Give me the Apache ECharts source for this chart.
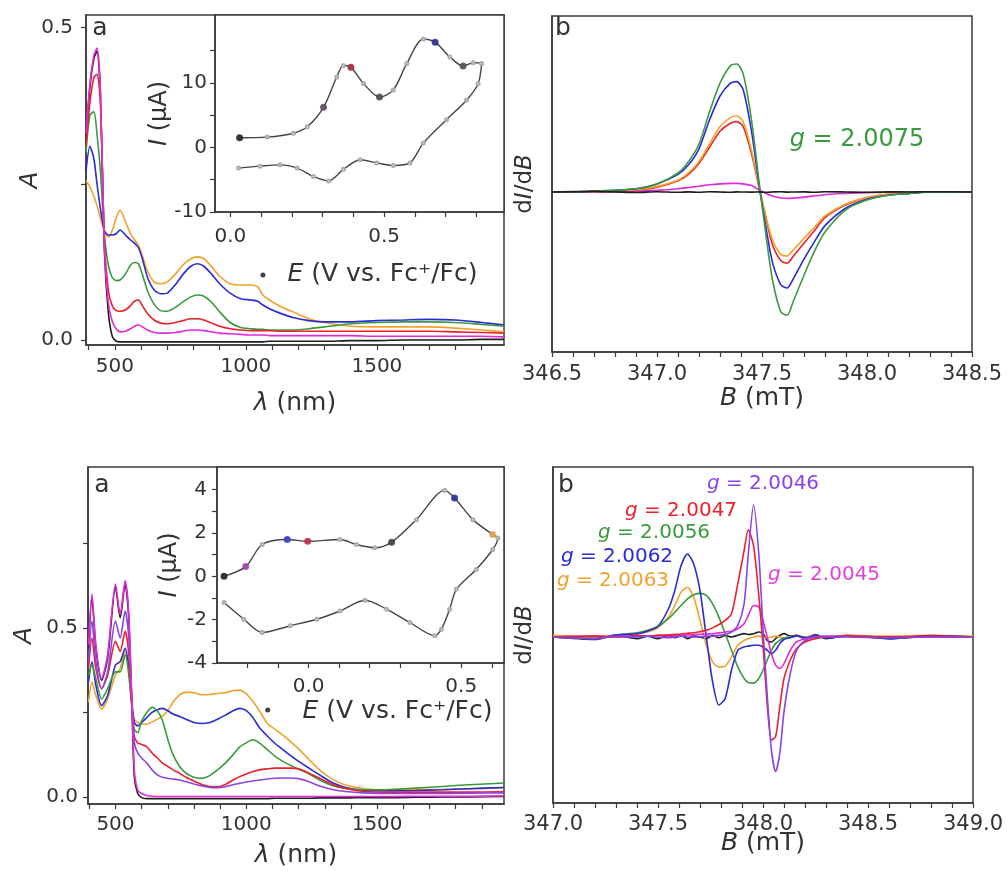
<!DOCTYPE html>
<html><head><meta charset="utf-8">
<script src="https://cdn.jsdelivr.net/npm/echarts@6/dist/echarts.min.js"></script>
<style>html,body{margin:0;padding:0;background:#fff}#c{width:1008px;height:871px}</style>
</head><body><div id="c"></div>
<script>
// ---------- Top-left: absorption spectra ----------
const wl1 = [390, 405, 420, 432, 445, 460, 475, 490, 505, 520, 540, 560, 575, 590, 605, 625, 650, 675, 700, 730, 760, 790, 815, 840, 870, 900, 940, 980, 1020, 1045, 1065, 1090, 1130, 1180, 1240, 1300, 1400, 1500, 1600, 1700, 1800, 1900, 1985];
const tlBlack   = [0.325, 0.405, 0.45, 0.462, 0.395, 0.145, 0.045, 0.006, -0.002, -0.003, -0.003, -0.003, -0.003, -0.003, -0.003, -0.003, -0.003, -0.003, -0.003, -0.003, -0.003, -0.003, -0.003, -0.003, -0.003, -0.003, -0.003, -0.003, -0.003, -0.003, -0.003, -0.002, -0.002, -0.002, -0.002, -0.002, -0.001, -0.001, 0, 0, 0, 0.001, 0.001];
const tlMagenta = [0.33, 0.41, 0.455, 0.467, 0.40, 0.15, 0.06, 0.03, 0.018, 0.013, 0.014, 0.018, 0.022, 0.024, 0.021, 0.016, 0.012, 0.011, 0.011, 0.012, 0.014, 0.016, 0.016, 0.015, 0.013, 0.011, 0.01, 0.009, 0.008, 0.008, 0.008, 0.007, 0.007, 0.007, 0.007, 0.007, 0.007, 0.006, 0.006, 0.006, 0.006, 0.006, 0.005];
const tlRed     = [0.31, 0.38, 0.42, 0.425, 0.38, 0.16, 0.08, 0.055, 0.047, 0.046, 0.048, 0.055, 0.062, 0.064, 0.055, 0.042, 0.032, 0.027, 0.026, 0.028, 0.031, 0.034, 0.034, 0.032, 0.027, 0.022, 0.018, 0.016, 0.015, 0.015, 0.015, 0.015, 0.014, 0.014, 0.014, 0.014, 0.014, 0.014, 0.014, 0.014, 0.013, 0.012, 0.011];
const tlGreen   = [0.30, 0.36, 0.365, 0.33, 0.27, 0.17, 0.12, 0.10, 0.095, 0.096, 0.105, 0.12, 0.124, 0.122, 0.105, 0.078, 0.057, 0.047, 0.046, 0.052, 0.061, 0.069, 0.072, 0.07, 0.06, 0.045, 0.028, 0.02, 0.018, 0.017, 0.017, 0.016, 0.016, 0.016, 0.018, 0.021, 0.026, 0.028, 0.029, 0.029, 0.028, 0.025, 0.022];
const tlBlue    = [0.27, 0.31, 0.29, 0.25, 0.21, 0.175, 0.168, 0.168, 0.17, 0.176, 0.168, 0.16, 0.155, 0.148, 0.13, 0.10, 0.08, 0.074, 0.075, 0.088, 0.105, 0.118, 0.122, 0.118, 0.105, 0.09, 0.075, 0.066, 0.064, 0.062, 0.056, 0.05, 0.043, 0.036, 0.031, 0.029, 0.029, 0.031, 0.032, 0.033, 0.032, 0.028, 0.024];
const tlOrange  = [0.255, 0.245, 0.23, 0.215, 0.195, 0.175, 0.165, 0.175, 0.195, 0.208, 0.19, 0.17, 0.16, 0.152, 0.135, 0.11, 0.093, 0.09, 0.093, 0.105, 0.12, 0.13, 0.133, 0.13, 0.117, 0.102, 0.09, 0.088, 0.088, 0.085, 0.072, 0.064, 0.054, 0.045, 0.034, 0.028, 0.022, 0.021, 0.021, 0.021, 0.019, 0.016, 0.013];
const tlStarX = [1065];
const tlStarY = [0.104];

// Top-left inset: cyclic voltammogram
const cv1E = [0.03, 0.12, 0.205, 0.25, 0.303, 0.346, 0.368, 0.392, 0.433, 0.485, 0.53, 0.574, 0.628, 0.666, 0.714, 0.757, 0.79, 0.817, 0.806, 0.768, 0.703, 0.628, 0.584, 0.53, 0.476, 0.422, 0.368, 0.319, 0.27, 0.217, 0.162, 0.097, 0.027];
const cv1I = [1.5, 1.6, 2.2, 3.2, 6.2, 10.9, 12.7, 12.4, 9.9, 7.8, 8.9, 13.0, 16.8, 16.3, 14.0, 12.6, 13.1, 13.0, 9.9, 7.3, 4.3, 0.7, -2.4, -2.8, -2.4, -1.9, -3.4, -5.2, -4.5, -3.2, -2.7, -2.9, -3.2];
const cv1DotE = [0.03, 0.303, 0.392, 0.485, 0.666, 0.757];
const cv1DotI = [1.5, 6.2, 12.4, 7.8, 16.3, 12.6];

// ---------- Top-right: EPR ----------
const b1 = [346.5, 346.7, 346.9, 347.0, 347.1, 347.15, 347.2, 347.25, 347.3, 347.35, 347.38, 347.41, 347.45, 347.49, 347.52, 347.55, 347.59, 347.62, 347.65, 347.7, 347.75, 347.8, 347.9, 348.0, 348.1, 348.2, 348.3, 348.5];
const e1Green   = [0, 0.005, 0.02, 0.05, 0.12, 0.19, 0.30, 0.50, 0.68, 0.79, 0.80, 0.74, 0.45, 0.02, -0.28, -0.55, -0.75, -0.77, -0.68, -0.52, -0.37, -0.25, -0.11, -0.05, -0.02, -0.01, 0, 0];
const e1Blue    = [0, 0.005, 0.02, 0.05, 0.11, 0.17, 0.27, 0.45, 0.60, 0.68, 0.69, 0.64, 0.38, 0.01, -0.23, -0.44, -0.58, -0.60, -0.54, -0.42, -0.31, -0.21, -0.10, -0.045, -0.02, -0.01, 0, 0];
const e1Orange  = [0, 0.003, 0.015, 0.035, 0.075, 0.12, 0.19, 0.30, 0.41, 0.465, 0.475, 0.44, 0.26, 0.01, -0.16, -0.30, -0.39, -0.40, -0.36, -0.29, -0.22, -0.15, -0.075, -0.035, -0.015, -0.005, 0, 0];
const e1Red     = [0, 0.003, 0.013, 0.03, 0.07, 0.11, 0.18, 0.28, 0.38, 0.43, 0.44, 0.41, 0.24, 0.005, -0.17, -0.33, -0.43, -0.445, -0.40, -0.32, -0.24, -0.16, -0.08, -0.035, -0.015, -0.005, 0, 0];
const e1Magenta = [0, 0, 0.005, 0.01, 0.02, 0.028, 0.036, 0.045, 0.051, 0.054, 0.054, 0.051, 0.04, 0.01, -0.01, -0.025, -0.038, -0.04, -0.038, -0.032, -0.024, -0.017, -0.008, -0.004, -0.002, 0, 0, 0];
const e1Black   = [0, 0.004, -0.003, 0.002, -0.002, 0.001, -0.002, 0.002, 0, -0.002, 0.001, 0, -0.001, 0.001, -0.002, 0, 0.002, -0.001, 0, 0.001, -0.002, 0.002, 0, -0.002, 0.001, 0, 0.002, 0];

// ---------- Bottom-left: absorption spectra ----------
const wl2 = [397, 410, 425, 447, 470, 500, 518, 537, 550, 562, 572, 585, 600, 620, 640, 660, 680, 700, 720, 745, 770, 800, 830, 860, 890, 920, 950, 975, 1000, 1025, 1050, 1080, 1110, 1140, 1170, 1200, 1240, 1280, 1330, 1380, 1450, 1550, 1650, 1750, 1850, 1985];
const blBlack   = [0.44, 0.59, 0.44, 0.345, 0.41, 0.62, 0.53, 0.63, 0.54, 0.29, 0.06, 0.01, -0.002, -0.005, -0.005, -0.005, -0.005, -0.005, -0.005, -0.005, -0.005, -0.005, -0.005, -0.005, -0.005, -0.005, -0.005, -0.005, -0.005, -0.005, -0.005, -0.005, -0.004, -0.004, -0.004, -0.004, -0.004, -0.003, -0.003, -0.003, -0.002, -0.002, -0.001, 0, 0, 0.001];
const blMagenta = [0.45, 0.60, 0.45, 0.35, 0.42, 0.63, 0.54, 0.64, 0.55, 0.30, 0.08, 0.02, 0.01, 0.004, 0.002, 0.001, 0.001, 0.001, 0.001, 0.001, 0.001, 0.001, 0.001, 0.001, 0.001, 0.001, 0.001, 0.001, 0.001, 0.001, 0.001, 0.001, 0.001, 0.001, 0.001, 0.001, 0.001, 0.001, 0.001, 0.001, 0.001, 0.001, 0.002, 0.002, 0.002, 0.003];
const blViolet  = [0.40, 0.52, 0.40, 0.32, 0.37, 0.52, 0.47, 0.55, 0.48, 0.30, 0.16, 0.13, 0.115, 0.10, 0.08, 0.065, 0.058, 0.055, 0.053, 0.05, 0.045, 0.038, 0.032, 0.028, 0.027, 0.03, 0.036, 0.04, 0.044, 0.047, 0.05, 0.053, 0.055, 0.056, 0.056, 0.054, 0.045, 0.032, 0.022, 0.016, 0.012, 0.01, 0.01, 0.01, 0.011, 0.012];
const blRed     = [0.38, 0.47, 0.38, 0.32, 0.36, 0.46, 0.43, 0.49, 0.43, 0.28, 0.18, 0.16, 0.155, 0.148, 0.13, 0.115, 0.10, 0.09, 0.08, 0.07, 0.058, 0.047, 0.037, 0.031, 0.03, 0.037, 0.05, 0.06, 0.068, 0.075, 0.08, 0.083, 0.085, 0.085, 0.085, 0.083, 0.07, 0.055, 0.037, 0.025, 0.016, 0.014, 0.014, 0.014, 0.014, 0.015];
const blGreen   = [0.36, 0.39, 0.35, 0.29, 0.32, 0.37, 0.37, 0.42, 0.37, 0.27, 0.20, 0.19, 0.225, 0.25, 0.265, 0.255, 0.225, 0.17, 0.125, 0.09, 0.07, 0.058, 0.055, 0.063, 0.08, 0.10, 0.125, 0.148, 0.16, 0.169, 0.16, 0.14, 0.12, 0.105, 0.093, 0.082, 0.068, 0.05, 0.033, 0.025, 0.021, 0.022, 0.026, 0.031, 0.036, 0.041];
const blBlue    = [0.34, 0.40, 0.33, 0.27, 0.30, 0.39, 0.40, 0.44, 0.39, 0.28, 0.22, 0.21, 0.22, 0.235, 0.25, 0.258, 0.262, 0.255, 0.245, 0.238, 0.23, 0.22, 0.217, 0.22, 0.23, 0.242, 0.255, 0.262, 0.255, 0.235, 0.205, 0.18, 0.158, 0.14, 0.122, 0.105, 0.085, 0.065, 0.042, 0.028, 0.02, 0.018, 0.019, 0.021, 0.024, 0.028];
const blOrange  = [0.28, 0.34, 0.30, 0.26, 0.29, 0.36, 0.38, 0.43, 0.37, 0.28, 0.23, 0.22, 0.215, 0.215, 0.222, 0.23, 0.24, 0.255, 0.28, 0.302, 0.31, 0.308, 0.302, 0.303, 0.306, 0.308, 0.315, 0.316, 0.305, 0.283, 0.255, 0.218, 0.2, 0.183, 0.163, 0.142, 0.11, 0.08, 0.052, 0.035, 0.024, 0.02, 0.021, 0.022, 0.024, 0.027];
const blStarX = [1082];
const blStarY = [0.257];

// Bottom-left inset: cyclic voltammogram
const cv2E = [-0.277, -0.206, -0.152, -0.07, -0.003, 0.103, 0.157, 0.217, 0.272, 0.353, 0.446, 0.478, 0.538, 0.603, 0.62, 0.603, 0.549, 0.484, 0.462, 0.435, 0.413, 0.332, 0.256, 0.185, 0.103, 0.027, -0.06, -0.152, -0.212, -0.277];
const cv2I = [0, 0.45, 1.47, 1.7, 1.62, 1.7, 1.47, 1.32, 1.58, 2.62, 3.97, 3.62, 2.62, 1.93, 1.77, 1.24, 0.32, -0.6, -1.52, -2.44, -2.74, -2.13, -1.52, -1.1, -1.6, -1.98, -2.28, -2.59, -1.98, -1.21];
const cv2DotE = [-0.277, -0.206, -0.07, -0.003, 0.272, 0.478, 0.603];
const cv2DotI = [0, 0.45, 1.7, 1.62, 1.58, 3.62, 1.93];

// ---------- Bottom-right: EPR ----------
const b2 = [347.0, 347.2, 347.3, 347.4, 347.45, 347.5, 347.55, 347.58, 347.61, 347.64, 347.67, 347.7, 347.73, 347.76, 347.79, 347.82, 347.85, 347.88, 347.91, 347.93, 347.955, 347.98, 348.0, 348.02, 348.04, 348.06, 348.08, 348.1, 348.13, 348.16, 348.2, 348.25, 348.3, 348.4, 348.6, 348.8, 349.0];
const e2Blue    = [0, -0.01, 0.012, 0.02, 0.035, 0.065, 0.17, 0.28, 0.43, 0.50, 0.44, 0.28, 0.0, -0.27, -0.41, -0.37, -0.2, -0.08, -0.06, -0.055, -0.05, -0.05, -0.06, -0.08, -0.1, -0.08, -0.04, -0.015, -0.005, 0.008, -0.006, 0.01, -0.008, 0.006, -0.01, 0.008, 0];
const e2Orange  = [0.01, 0.0, 0.012, 0.018, 0.03, 0.055, 0.12, 0.19, 0.27, 0.30, 0.24, 0.10, -0.05, -0.15, -0.18, -0.175, -0.12, -0.05, -0.02, -0.01, 0, 0.005, 0, -0.005, 0, 0.005, 0, -0.005, 0, 0.005, 0, 0.01, 0, 0.01, 0.005, 0.01, 0.005];
const e2Green   = [0, -0.01, 0.012, 0.025, 0.04, 0.065, 0.11, 0.15, 0.19, 0.23, 0.255, 0.263, 0.25, 0.20, 0.12, 0.02, -0.08, -0.18, -0.25, -0.275, -0.278, -0.25, -0.2, -0.14, -0.08, -0.04, -0.02, -0.005, 0, 0.005, 0, -0.005, 0, 0.005, 0, 0, 0];
const e2Red     = [0, 0.005, 0, 0.005, 0.005, 0.01, 0.012, 0.015, 0.018, 0.022, 0.026, 0.032, 0.04, 0.055, 0.075, 0.1, 0.14, 0.32, 0.52, 0.645, 0.55, 0.25, -0.05, -0.4, -0.62, -0.6, -0.42, -0.25, -0.14, -0.07, -0.03, -0.01, 0, 0.005, 0, 0.005, 0];
const e2Violet  = [0, -0.01, 0.005, 0, 0.005, 0, -0.005, 0, 0.005, 0, 0, 0, 0.005, 0.005, 0.01, 0.015, 0.03, 0.07, 0.2, 0.5, 0.795, 0.5, 0.05, -0.35, -0.68, -0.81, -0.7, -0.45, -0.22, -0.08, -0.02, 0, 0.005, 0, -0.005, 0, 0];
const e2Magenta = [0, 0.005, 0, 0.01, 0.005, 0.01, 0.005, 0.01, 0.01, 0.012, 0.014, 0.016, 0.018, 0.02, 0.025, 0.03, 0.035, 0.05, 0.08, 0.13, 0.19, 0.18, 0.1, 0.0, -0.1, -0.17, -0.19, -0.16, -0.08, -0.03, -0.01, 0, 0, 0.005, 0, 0, 0];
const e2Black   = [0, -0.015, 0.01, -0.01, 0.005, -0.01, 0.01, -0.005, 0.008, -0.01, 0.005, 0, -0.01, 0.01, -0.005, 0.01, 0, 0.01, 0.02, 0.015, 0.02, 0.03, 0.02, -0.02, -0.03, -0.01, 0.01, 0.02, 0.005, 0.01, -0.01, 0.015, -0.01, 0.01, -0.01, 0.005, 0];

// ---------- Tick values and labels ----------
const lamTicks = [400, 500, 600, 700, 800, 900, 1000, 1100, 1200, 1300, 1400, 1500, 1600, 1700, 1800, 1900];
const lamLabels = [500, 1000, 1500];
const tlYTicks = [0, 0.25, 0.5];
const blYTicks = [0, 0.25, 0.5, 0.75];
const absLabels = [0, 0.5];
const in1XTicks = [0, 0.1, 0.2, 0.3, 0.4, 0.5, 0.6, 0.7, 0.8];
const in1YTicks = [-10, -5, 0, 5, 10, 15];
const in1YLabels = [-10, 0, 10];
const in2XTicks = [-0.2, -0.1, 0, 0.1, 0.2, 0.3, 0.4, 0.5, 0.6];
const in2YTicks = [-4, -3, -2, -1, 0, 1, 2, 3, 4];
const in2YLabels = [-4, -2, 0, 2, 4];
const inXLabels = [0, 0.5];
const esr1Ticks = [346.5, 346.6, 346.7, 346.8, 346.9, 347.0, 347.1, 347.2, 347.3, 347.4, 347.5, 347.6, 347.7, 347.8, 347.9, 348.0, 348.1, 348.2, 348.3, 348.4, 348.5];
const esr1Labels = [346.5, 347.0, 347.5, 348.0, 348.5];
const esr2Ticks = [347.0, 347.1, 347.2, 347.3, 347.4, 347.5, 347.6, 347.7, 347.8, 347.9, 348.0, 348.1, 348.2, 348.3, 348.4, 348.5, 348.6, 348.7, 348.8, 348.9, 349.0];
const esr2Labels = [347.0, 347.5, 348.0, 348.5, 349.0];

// ---------- styling ----------
const FONT = 'DejaVu Sans';
const TXT = '#333';
const AX = '#3a3a3a';
const C = {black:'#1e1e1e', magenta:'#e22ad8', red:'#ec1f2b', green:'#3a9a3e', blue:'#2a2ad6', orange:'#f2a22c', violet:'#8a44e6'};
const dot1Colors = ['#111', '#5a3a5a', '#a01c2c', '#3e463e', '#1c1c8a', '#4a4440'];
const dot2Colors = ['#111', '#9a3aa8', '#2a2ac8', '#c01c3a', '#333', '#1c1c90', '#e8a040'];

function pairs(xs, ys){ return xs.map((x,i)=>[x, ys[i]]); }
const fmt1 = v => Number(v).toFixed(1);
const fmt0 = v => String(v);

function rich(fs){ return {i:{fontFamily:FONT, fontStyle:'italic', fontSize:fs, color:TXT}}; }

function axis(o){
  return {
    type:'value', gridIndex:o.g, min:o.min, max:o.max, position:o.pos,
    axisLine:{show:true, onZero:false, lineStyle:{color:AX, width:1.5}},
    axisTick:{show:!!o.ticks, customValues:o.ticks, length:5, inside:false, lineStyle:{color:AX, width:1.2}},
    axisLabel:{show:!!o.labels, customValues:o.labels, margin:o.margin||10, fontFamily:FONT, fontSize:o.fs||20, color:TXT, formatter:o.fmt},
    splitLine:{show:false},
    name:o.name, nameLocation:'middle', nameGap:o.nameGap, nameMoveOverlap:false,
    nameTextStyle:{fontFamily:FONT, fontSize:o.nfs||25, color:TXT, rich:rich(o.nfs||25), padding:o.npad},
    z:o.z||0
  };
}

function line(xi, xs, ys, color, z){
  return {type:'line', xAxisIndex:xi, yAxisIndex:xi, data:pairs(xs, ys), showSymbol:false, smooth:0.25,
    lineStyle:{color:color, width:1.6}, itemStyle:{color:color}, z:z||2, silent:true};
}

const grids = [
  {left:86, top:15, width:418, height:330},
  {left:215, top:15, width:289, height:197, inset:true},
  {left:552, top:16, width:420, height:336},
  {left:88, top:467, width:416, height:337},
  {left:217, top:467, width:287, height:196, inset:true},
  {left:553, top:467, width:420, height:336}
].map(g => ({left:g.left, top:g.top, width:g.width, height:g.height, show:true, containLabel:false, outerBoundsMode:'none',
  borderColor:AX, borderWidth:1.5, backgroundColor: g.inset ? '#fff' : 'transparent', z: g.inset ? 10 : 0}));

const xAxes = [
  axis({g:0, min:390, max:1985, ticks:lamTicks, labels:lamLabels, fmt:fmt0, margin:12, fs:20, name:'{i|λ} (nm)', nameGap:46}),
  axis({g:1, min:-0.05, max:0.89, ticks:in1XTicks, labels:inXLabels, fmt:fmt1, margin:15, fs:20, name:'{i|E} (V vs. Fc⁺/Fc)', nameGap:50, nfs:25, npad:[0,0,0,46], z:11}),
  axis({g:2, min:346.5, max:348.5, ticks:esr1Ticks, labels:esr1Labels, fmt:fmt1, margin:12, fs:21, name:'{i|B} (mT)', nameGap:34}),
  axis({g:3, min:395, max:1985, ticks:lamTicks, labels:lamLabels, fmt:fmt0, margin:11, fs:20, name:'{i|λ} (nm)', nameGap:39}),
  axis({g:4, min:-0.3, max:0.64, ticks:in2XTicks, labels:inXLabels, fmt:fmt1, margin:14, fs:20, name:'{i|E} (V vs. Fc⁺/Fc)', nameGap:36, nfs:25, npad:[0,0,0,74], z:11}),
  axis({g:5, min:347.0, max:349.0, ticks:esr2Ticks, labels:esr2Labels, fmt:fmt1, margin:11, fs:21, name:'{i|B} (mT)', nameGap:28})
];
const yAxes = [
  axis({g:0, min:-0.008, max:0.52, ticks:tlYTicks, labels:absLabels, fmt:fmt1, margin:13, fs:20, name:'{i|A}', nameGap:43}),
  axis({g:1, min:-10, max:20.5, ticks:in1YTicks, labels:in1YLabels, fmt:fmt0, margin:8, fs:20, name:'{i|I} (µA)', nameGap:43, nfs:24, z:11}),
  axis({g:2, min:-1, max:1.1, ticks:null, labels:null, name:'d{i|I}/d{i|B}', nameGap:15, nfs:23}),
  axis({g:3, min:-0.021, max:0.976, ticks:blYTicks, labels:absLabels, fmt:fmt1, margin:10, fs:20, name:'{i|A}', nameGap:51}),
  axis({g:4, min:-4, max:5.05, ticks:in2YTicks, labels:in2YLabels, fmt:fmt0, margin:10, fs:20, name:'{i|I} (µA)', nameGap:35, nfs:24, z:11}),
  axis({g:5, min:-1, max:1.024, ticks:null, labels:null, name:'d{i|I}/d{i|B}', nameGap:16, nfs:23})
];

function cvSeries(xi, E, I){
  return {type:'line', xAxisIndex:xi, yAxisIndex:xi, data:pairs(E, I), smooth:0.3, showSymbol:true, symbol:'emptyCircle', symbolSize:3,
    lineStyle:{color:'#444', width:1.4}, itemStyle:{color:'#aaa', borderColor:'#aaa', borderWidth:1}, z:12, silent:true};
}
function dotSeries(xi, E, I, cols){
  return {type:'scatter', xAxisIndex:xi, yAxisIndex:xi, symbolSize:7, z:13, silent:true,
    data:E.map((e,i)=>({value:[e, I[i]], itemStyle:{color:cols[i]}}))};
}
function star(xi, xs, ys){
  return {type:'scatter', xAxisIndex:xi, yAxisIndex:xi, symbolSize:5, z:5, silent:true, itemStyle:{color:'#111'}, data:pairs(xs, ys)};
}

const series = [
  line(0, wl1, tlBlack, C.black), line(0, wl1, tlOrange, C.orange), line(0, wl1, tlBlue, C.blue),
  line(0, wl1, tlGreen, C.green), line(0, wl1, tlRed, C.red), line(0, wl1, tlMagenta, C.magenta),
  star(0, tlStarX, tlStarY),
  cvSeries(1, cv1E, cv1I), dotSeries(1, cv1DotE, cv1DotI, dot1Colors),
  line(2, b1, e1Magenta, C.magenta), line(2, b1, e1Red, C.red), line(2, b1, e1Orange, C.orange),
  line(2, b1, e1Blue, C.blue), line(2, b1, e1Green, C.green), line(2, b1, e1Black, C.black),
  line(3, wl2, blBlack, C.black), line(3, wl2, blOrange, C.orange), line(3, wl2, blBlue, C.blue),
  line(3, wl2, blGreen, C.green), line(3, wl2, blRed, C.red), line(3, wl2, blViolet, C.violet), line(3, wl2, blMagenta, C.magenta),
  star(3, blStarX, blStarY),
  cvSeries(4, cv2E, cv2I), dotSeries(4, cv2DotE, cv2DotI, dot2Colors),
  line(5, b2, e2Black, C.black), line(5, b2, e2Orange, C.orange), line(5, b2, e2Green, C.green),
  line(5, b2, e2Blue, C.blue), line(5, b2, e2Magenta, C.magenta), line(5, b2, e2Red, C.red), line(5, b2, e2Violet, C.violet)
];

function txt(x, y, text, color, fs){
  return {type:'text', x:x, y:y, z:100, silent:true,
    style:{text:text, fontFamily:FONT, fontSize:fs, fill:color, align:'center', verticalAlign:'middle',
      rich:{i:{fontFamily:FONT, fontStyle:'italic', fontSize:fs, fill:color}}}};
}
const graphic = [
  txt(100, 28, 'a', TXT, 25), txt(563, 28, 'b', TXT, 25),
  txt(102, 485, 'a', TXT, 25), txt(566, 485, 'b', TXT, 25),
  txt(857, 140, '{i|g} = 2.0075', C.green, 24),
  txt(763, 484, '{i|g} = 2.0046', C.violet, 20),
  txt(681, 511, '{i|g} = 2.0047', C.red, 20),
  txt(654, 533, '{i|g} = 2.0056', C.green, 20),
  txt(617, 557, '{i|g} = 2.0062', C.blue, 20),
  txt(613, 581, '{i|g} = 2.0063', C.orange, 20),
  txt(824, 575, '{i|g} = 2.0045', '#e040e0', 20)
];

const chart = echarts.init(document.getElementById('c'), null, {renderer:'canvas'});
chart.setOption({animation:false, backgroundColor:'#fff', grid:grids, xAxis:xAxes, yAxis:yAxes, series:series, graphic:graphic});
</script></body></html>
